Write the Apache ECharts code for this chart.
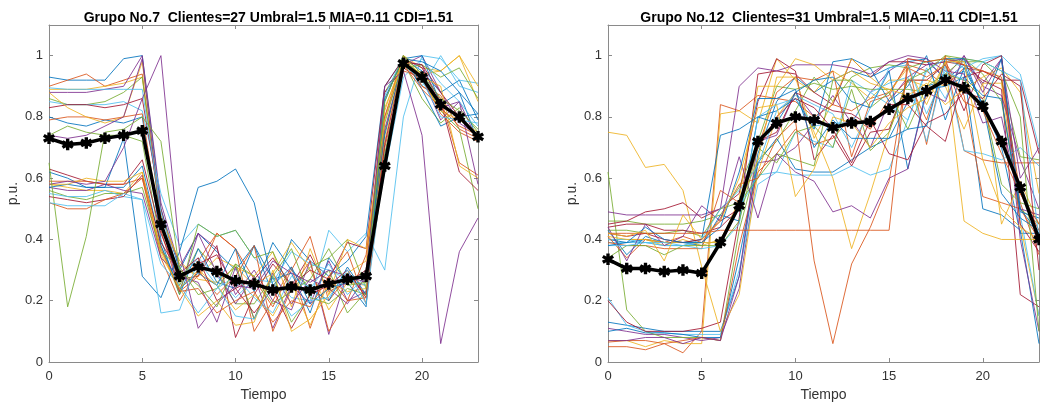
<!DOCTYPE html>
<html>
<head>
<meta charset="utf-8">
<script src="https://cdn.jsdelivr.net/npm/echarts@6/dist/echarts.min.js"></script>
<style>html,body{margin:0;padding:0;background:#fff;}#c{width:1040px;height:407px;}</style>
</head>
<body>
<div id="c"></div>
<script>
const tiempo = [0,1,2,3,4,5,6,7,8,9,10,11,12,13,14,15,16,17,18,19,20,21,22,23];
const xTicks = [0,5,10,15,20];
const yTicks = [0,0.2,0.4,0.6,0.8,1];
const titulo7 = 'Grupo No.7  Clientes=27 Umbral=1.5 MIA=0.11 CDI=1.51';
const titulo12 = 'Grupo No.12  Clientes=31 Umbral=1.5 MIA=0.11 CDI=1.51';

const centroide7 = [0.73,0.71,0.715,0.73,0.74,0.755,0.45,0.28,0.31,0.295,0.265,0.255,0.235,0.245,0.235,0.255,0.27,0.28,0.64,0.975,0.93,0.84,0.80,0.735];
const centroide12 = [0.335,0.305,0.305,0.295,0.30,0.29,0.39,0.51,0.72,0.78,0.80,0.79,0.765,0.78,0.785,0.825,0.86,0.885,0.92,0.895,0.835,0.72,0.57,0.40];

const clientes7 = [
[0.93,0.92,0.92,0.92,0.99,1.00,0.50,0.30,0.42,0.36,0.30,0.38,0.22,0.40,0.33,0.28,0.33,0.41,0.90,0.99,0.95,0.88,0.92,0.79],
[0.90,0.92,0.94,0.90,0.92,0.94,0.45,0.26,0.33,0.42,0.37,0.27,0.18,0.30,0.41,0.20,0.28,0.22,0.75,0.98,0.90,0.87,0.76,0.73],
[0.89,0.89,0.89,0.90,0.91,0.93,0.48,0.32,0.28,0.34,0.31,0.25,0.29,0.39,0.30,0.17,0.26,0.25,0.82,1.00,0.96,0.95,1.00,0.85],
[0.88,0.88,0.88,0.89,0.90,1.00,0.52,0.31,0.42,0.37,0.22,0.30,0.20,0.17,0.33,0.09,0.29,0.22,0.80,0.97,1.00,0.88,0.78,0.74],
[0.86,0.84,0.84,0.85,0.88,0.93,0.46,0.25,0.37,0.30,0.19,0.19,0.28,0.13,0.22,0.30,0.16,0.23,0.88,0.98,0.86,0.78,0.83,0.75],
[0.85,0.84,0.84,0.84,0.85,0.82,0.55,0.38,0.45,0.41,0.43,0.34,0.28,0.21,0.20,0.43,0.36,0.42,0.30,0.80,1.00,0.99,0.92,0.91],
[0.83,0.84,0.84,0.83,0.84,0.86,0.50,0.27,0.28,0.38,0.08,0.22,0.32,0.25,0.35,0.23,0.26,0.30,0.88,0.96,0.92,0.84,0.80,0.73],
[0.80,0.78,0.77,0.79,0.78,0.80,0.40,0.22,0.37,0.26,0.24,0.38,0.27,0.29,0.16,0.34,0.26,0.28,0.85,1.00,0.89,0.77,0.80,0.81],
[0.79,0.80,0.80,0.79,0.80,0.81,0.43,0.23,0.28,0.42,0.37,0.10,0.20,0.31,0.11,0.28,0.36,0.19,0.70,0.95,0.93,0.81,0.75,0.72],
[0.88,0.83,0.80,0.78,0.80,0.98,0.47,0.33,0.27,0.26,0.31,0.28,0.36,0.18,0.37,0.22,0.29,0.33,0.83,0.98,0.94,0.95,1.00,0.90],
[0.74,0.73,0.74,0.77,0.80,0.99,0.46,0.23,0.42,0.29,0.19,0.28,0.11,0.25,0.19,0.33,0.20,0.23,0.76,0.98,0.97,0.83,0.85,0.72],
[0.74,0.77,0.75,0.74,0.74,0.72,0.38,0.22,0.45,0.41,0.43,0.34,0.36,0.23,0.31,0.34,0.40,0.24,0.78,0.99,0.93,0.82,0.76,0.50],
[0.895,0.89,0.89,0.89,0.89,0.89,0.49,0.27,0.34,0.28,0.21,0.27,0.26,0.36,0.32,0.30,0.27,0.25,0.87,1.00,0.90,1.00,0.90,0.88],
[0.63,0.61,0.59,0.58,0.58,0.66,0.42,0.27,0.32,0.35,0.24,0.27,0.34,0.25,0.30,0.27,0.39,0.37,0.90,0.99,0.96,0.85,0.62,0.56],
[0.62,0.60,0.57,0.57,0.57,0.64,0.38,0.24,0.29,0.25,0.37,0.23,0.39,0.30,0.24,0.20,0.31,0.22,0.74,0.99,1.00,0.84,0.88,0.72],
[0.59,0.59,0.59,0.58,0.58,0.60,0.34,0.20,0.30,0.22,0.28,0.38,0.10,0.24,0.33,0.10,0.20,0.35,0.80,1.00,0.90,0.86,0.65,0.61],
[0.58,0.57,0.56,0.56,0.55,0.62,0.35,0.24,0.30,0.25,0.17,0.22,0.15,0.26,0.12,0.26,0.23,0.24,0.72,0.99,0.92,0.82,0.79,0.75],
[0.57,0.56,0.56,0.58,0.56,0.55,0.34,0.28,0.26,0.13,0.31,0.14,0.29,0.19,0.27,0.24,0.19,0.28,0.67,0.97,0.93,0.79,0.85,0.58],
[0.56,0.54,0.53,0.55,0.55,0.57,0.36,0.31,0.22,0.24,0.32,0.14,0.28,0.37,0.21,0.19,0.24,0.22,0.68,0.96,0.97,0.93,0.96,0.86],
[0.55,0.54,0.54,0.56,0.54,0.53,0.32,0.25,0.16,0.24,0.28,0.21,0.16,0.28,0.24,0.32,0.22,0.28,0.62,0.93,0.99,0.91,0.85,0.77],
[0.54,0.53,0.52,0.53,0.54,0.61,0.39,0.29,0.34,0.20,0.24,0.16,0.24,0.11,0.22,0.25,0.30,0.21,0.71,0.98,0.97,0.88,0.80,0.74],
[0.57,0.58,0.57,0.57,0.73,0.28,0.21,0.36,0.57,0.59,0.63,0.52,0.25,0.31,0.19,0.24,0.26,0.18,0.86,0.99,0.98,0.95,0.88,0.81],
[0.52,0.50,0.50,0.53,0.55,0.60,0.37,0.23,0.24,0.16,0.20,0.23,0.13,0.20,0.18,0.28,0.20,0.21,0.65,0.97,0.89,0.83,0.77,0.74],
[0.58,0.58,0.60,0.59,0.59,0.62,0.36,0.24,0.15,0.20,0.12,0.13,0.30,0.10,0.14,0.22,0.40,0.37,0.79,1.00,0.93,0.90,0.64,0.60],
[0.58,0.59,0.58,0.59,0.70,0.86,1.00,0.36,0.11,0.19,0.25,0.24,0.33,0.29,0.26,0.30,0.28,0.26,0.90,0.95,0.74,0.06,0.36,0.47],
[0.65,0.18,0.41,0.75,0.76,0.80,0.72,0.30,0.25,0.18,0.32,0.28,0.19,0.23,0.27,0.37,0.25,0.26,0.85,1.00,0.94,0.86,0.82,0.76],
[0.52,0.51,0.51,0.51,0.55,0.53,0.16,0.17,0.33,0.25,0.15,0.14,0.25,0.15,0.20,0.21,0.30,0.19,0.66,0.97,0.92,0.80,0.79,0.78]
];

const clientes12 = [
[0.13,0.12,0.11,0.10,0.10,0.10,0.10,0.28,0.68,0.85,0.93,0.88,0.92,0.95,0.93,0.96,0.98,0.99,0.92,0.97,0.84,0.70,0.42,0.42],
[0.05,0.05,0.04,0.06,0.03,0.10,0.84,0.82,0.87,0.86,0.85,0.80,0.84,0.82,0.86,0.88,0.97,0.95,0.90,0.96,0.95,0.92,0.52,0.35],
[0.07,0.07,0.05,0.07,0.06,0.06,0.81,0.82,0.78,0.99,0.92,0.88,0.95,0.91,0.86,0.92,0.92,0.90,1.00,0.97,0.91,0.91,0.45,0.15],
[0.11,0.10,0.09,0.09,0.08,0.07,0.08,0.24,0.65,0.66,0.70,0.78,0.87,0.78,0.88,0.95,0.99,0.98,0.93,1.00,0.90,0.87,0.66,0.50],
[0.62,0.17,0.10,0.08,0.08,0.08,0.07,0.43,0.66,0.72,0.82,0.93,0.85,0.93,0.96,0.97,0.96,0.98,0.99,0.98,0.98,0.92,0.67,0.66],
[0.21,0.12,0.10,0.095,0.09,0.09,0.09,0.30,0.58,0.62,0.75,0.72,0.70,0.92,0.88,0.84,0.79,0.96,0.86,0.99,0.98,1.00,0.48,0.15],
[0.20,0.13,0.10,0.10,0.10,0.11,0.13,0.47,0.94,0.95,0.94,0.88,0.84,0.99,0.93,0.98,0.98,0.97,0.98,0.97,0.92,0.89,0.22,0.18],
[0.10,0.11,0.095,0.095,0.09,0.08,0.08,0.34,0.65,0.73,0.63,0.62,0.62,0.66,0.70,0.73,0.85,0.90,0.92,0.95,0.50,0.48,0.43,0.06],
[0.065,0.07,0.07,0.06,0.07,0.08,0.07,0.38,0.62,0.68,0.76,0.71,0.73,0.80,0.76,0.86,0.92,0.79,0.98,0.87,0.54,0.52,0.50,0.40],
[0.75,0.74,0.635,0.645,0.56,0.31,0.10,0.22,0.62,0.80,0.88,0.75,0.60,0.37,0.55,0.75,0.92,0.92,0.90,0.76,0.91,0.45,0.59,0.45],
[0.07,0.07,0.08,0.08,0.06,0.08,0.07,0.28,0.72,0.74,0.88,0.80,0.76,0.79,0.70,0.85,0.93,0.97,0.98,0.99,0.91,0.99,0.40,0.10],
[0.46,0.46,0.45,0.45,0.45,0.46,0.48,0.57,0.72,0.90,0.89,0.91,0.89,0.90,0.89,0.89,0.89,0.88,0.94,0.99,0.94,0.85,0.50,0.45],
[0.39,0.39,0.39,0.38,0.38,0.39,0.39,0.50,0.61,0.62,0.61,0.61,0.61,0.64,0.61,0.63,0.79,0.95,0.99,0.96,0.99,1.00,0.94,0.70],
[0.45,0.46,0.49,0.50,0.52,0.47,0.50,0.55,0.85,0.99,0.95,0.66,0.74,0.64,0.75,0.76,0.92,0.92,0.97,0.82,0.97,1.00,0.45,0.36],
[0.40,0.39,0.40,0.39,0.39,0.38,0.48,0.46,0.80,0.82,0.86,0.76,0.98,0.99,0.96,0.85,0.90,1.00,0.79,0.96,0.84,0.55,0.47,0.43],
[0.39,0.38,0.38,0.37,0.37,0.37,0.56,0.52,0.70,0.88,0.93,0.92,0.95,0.67,0.85,0.87,0.98,0.71,1.00,0.69,0.66,0.65,0.65,0.65],
[0.40,0.40,0.40,0.38,0.40,0.38,0.40,0.51,0.66,0.93,0.93,0.73,0.85,0.99,0.93,0.88,0.96,0.84,0.98,0.46,0.42,0.40,0.40,0.40],
[0.49,0.48,0.48,0.48,0.48,0.48,0.50,0.90,0.96,0.95,0.97,0.97,0.97,0.96,0.94,0.98,1.00,0.99,0.95,0.94,0.78,0.80,0.50,0.48],
[0.43,0.43,0.42,0.42,0.43,0.41,0.50,0.52,0.60,0.68,0.66,0.64,0.92,0.92,0.83,0.88,0.76,0.90,0.94,0.92,0.86,0.58,0.52,0.50],
[0.40,0.40,0.39,0.38,0.38,0.37,0.38,0.45,0.80,0.84,0.86,0.77,0.78,0.78,0.88,0.91,0.93,0.72,0.97,0.69,0.68,0.66,0.70,0.64],
[0.44,0.45,0.45,0.43,0.43,0.42,0.44,0.50,0.72,0.75,0.88,0.85,0.82,0.81,0.77,0.84,0.84,0.77,0.72,0.93,0.95,0.92,0.92,0.68],
[0.43,0.35,0.41,0.39,0.39,0.40,0.74,0.76,0.80,0.78,0.88,0.92,0.93,0.85,0.83,0.95,0.63,0.89,0.90,0.93,0.87,0.86,0.49,0.47],
[0.41,0.34,0.40,0.39,0.41,0.39,0.47,0.58,0.60,0.73,0.79,0.33,0.06,0.32,0.44,0.59,0.96,0.93,0.97,0.85,0.82,0.68,0.55,0.43],
[0.41,0.40,0.40,0.39,0.39,0.39,0.39,0.53,0.90,0.90,0.99,0.97,0.92,0.95,0.91,0.89,0.87,0.91,0.84,0.89,0.93,0.96,0.88,0.55],
[0.44,0.33,0.45,0.38,0.41,0.51,0.46,0.67,0.47,0.68,0.62,0.59,0.49,0.51,0.47,0.60,0.63,0.88,0.85,1.00,0.88,0.99,0.60,0.70],
[0.34,0.38,0.38,0.35,0.38,0.38,0.38,0.46,0.70,0.65,0.75,0.77,0.70,0.89,0.69,0.75,0.92,0.95,1.00,0.99,0.98,0.95,0.80,0.10],
[0.38,0.38,0.39,0.39,0.38,0.40,0.50,0.56,0.64,0.82,0.87,0.84,0.81,0.70,0.83,0.96,0.97,0.81,0.95,0.92,0.98,0.95,0.92,0.40],
[0.42,0.41,0.42,0.40,0.39,0.40,0.46,0.50,0.70,0.80,0.86,0.83,0.76,0.65,0.79,0.68,0.66,0.78,0.81,0.88,0.86,0.94,0.90,0.30],
[0.38,0.39,0.44,0.40,0.39,0.39,0.44,0.62,0.86,0.86,0.89,0.70,0.79,0.73,0.73,0.73,0.76,0.77,0.99,0.99,0.83,0.99,0.50,0.42],
[0.42,0.42,0.42,0.42,0.42,0.42,0.43,0.43,0.43,0.43,0.43,0.43,0.43,0.43,0.43,0.43,0.99,0.98,0.99,0.97,0.95,0.93,0.55,0.45],
[0.42,0.41,0.43,0.33,0.48,0.40,0.46,0.60,0.83,0.84,0.54,0.63,0.80,0.78,0.70,0.78,0.83,0.86,0.98,0.98,0.66,0.50,0.44,0.40]
];

const paleta = ['#0072BD','#D95319','#EDB120','#7E2F8E','#77AC30','#4DBEEE','#A2142F'];
const FONT = "'Liberation Sans', Arial, Helvetica, sans-serif";
const axisGray = '#8a8a8a';
const labelGray = '#333333';

function pts(arr){ return arr.map((v,i)=>[tiempo[i], v]); }

const grids = [
  {left:49, top:25, width:429, height:338},
  {left:608, top:25, width:431, height:338}
];

const xAxes = [], yAxes = [], series = [];
grids.forEach((g, gi) => {
  xAxes.push({
    type:'value', gridIndex:gi, position:'bottom', min:0, max:23, interval:5,
    name:'Tiempo', nameLocation:'middle', nameGap:26,
    nameTextStyle:{color:labelGray, fontSize:14, fontFamily:FONT},
    axisLine:{show:true, onZero:false, lineStyle:{color:axisGray, width:1}},
    axisTick:{show:true, inside:true, length:4, lineStyle:{color:axisGray}},
    axisLabel:{color:labelGray, fontSize:13, fontFamily:FONT, margin:8, showMaxLabel:false,
      formatter: v => xTicks.includes(v) ? String(v) : ''},
    splitLine:{show:false}
  });
  xAxes.push({
    type:'value', gridIndex:gi, position:'top', min:0, max:23, interval:5,
    axisLine:{show:true, onZero:false, lineStyle:{color:axisGray, width:1}},
    axisTick:{show:true, inside:true, length:4, lineStyle:{color:axisGray}},
    axisLabel:{show:false}, splitLine:{show:false}
  });
  yAxes.push({
    type:'value', gridIndex:gi, position:'left', min:0, max:1.1, interval:0.2,
    name:'p.u.', nameLocation:'middle', nameGap:29, nameRotate:90,
    nameTextStyle:{color:labelGray, fontSize:14, fontFamily:FONT},
    axisLine:{show:true, onZero:false, lineStyle:{color:axisGray, width:1}},
    axisTick:{show:true, inside:true, length:4, lineStyle:{color:axisGray}},
    axisLabel:{color:labelGray, fontSize:13, fontFamily:FONT, margin:6, showMaxLabel:false,
      formatter: v => { const r = Math.round(v*10)/10; return yTicks.includes(r) && Math.abs(v-r)<1e-6 ? String(r) : ''; }},
    splitLine:{show:false}
  });
  yAxes.push({
    type:'value', gridIndex:gi, position:'right', min:0, max:1.1, interval:0.2,
    axisLine:{show:true, onZero:false, lineStyle:{color:axisGray, width:1}},
    axisTick:{show:true, inside:true, length:4, lineStyle:{color:axisGray}},
    axisLabel:{show:false}, splitLine:{show:false}
  });
});

[clientes7, clientes12].forEach((grupo, gi) => {
  grupo.forEach((arr, i) => {
    series.push({
      type:'line', xAxisIndex:gi*2, yAxisIndex:gi*2, data:pts(arr),
      showSymbol:false, symbol:'none', silent:true, z:2,
      lineStyle:{color:paleta[i%7], width:1, opacity:0.85}
    });
  });
});

const asterisco = 'path://M4.2,0 L5.8,0 L5.8,3.1 L8.5,1.5 L9.3,2.9 L6.6,4.5 L9.3,6.1 L8.5,7.5 L5.8,5.9 L5.8,9 L4.2,9 L4.2,5.9 L1.5,7.5 L0.7,6.1 L3.4,4.5 L0.7,2.9 L1.5,1.5 L4.2,3.1 Z';
[centroide7, centroide12].forEach((arr, gi) => {
  series.push({
    type:'line', xAxisIndex:gi*2, yAxisIndex:gi*2, data:pts(arr),
    symbol:asterisco, symbolSize:10, showSymbol:true, z:5,
    itemStyle:{color:'#000', borderColor:'#000', borderWidth:1.5},
    lineStyle:{color:'#000', width:3.5}
  });
});

const chart = echarts.init(document.getElementById('c'), null, {renderer:'canvas'});
chart.setOption({
  animation:false,
  backgroundColor:'#fff',
  title:[
    {text:titulo7, left:263.5, top:6, textAlign:'center', textStyle:{fontSize:14, fontWeight:'bold', color:'#000', fontFamily:FONT}},
    {text:titulo12, left:824, top:6, textAlign:'center', textStyle:{fontSize:14, fontWeight:'bold', color:'#000', fontFamily:FONT}}
  ],
  grid:grids,
  xAxis:xAxes,
  yAxis:yAxes,
  series:series
});
</script>
</body>
</html>
